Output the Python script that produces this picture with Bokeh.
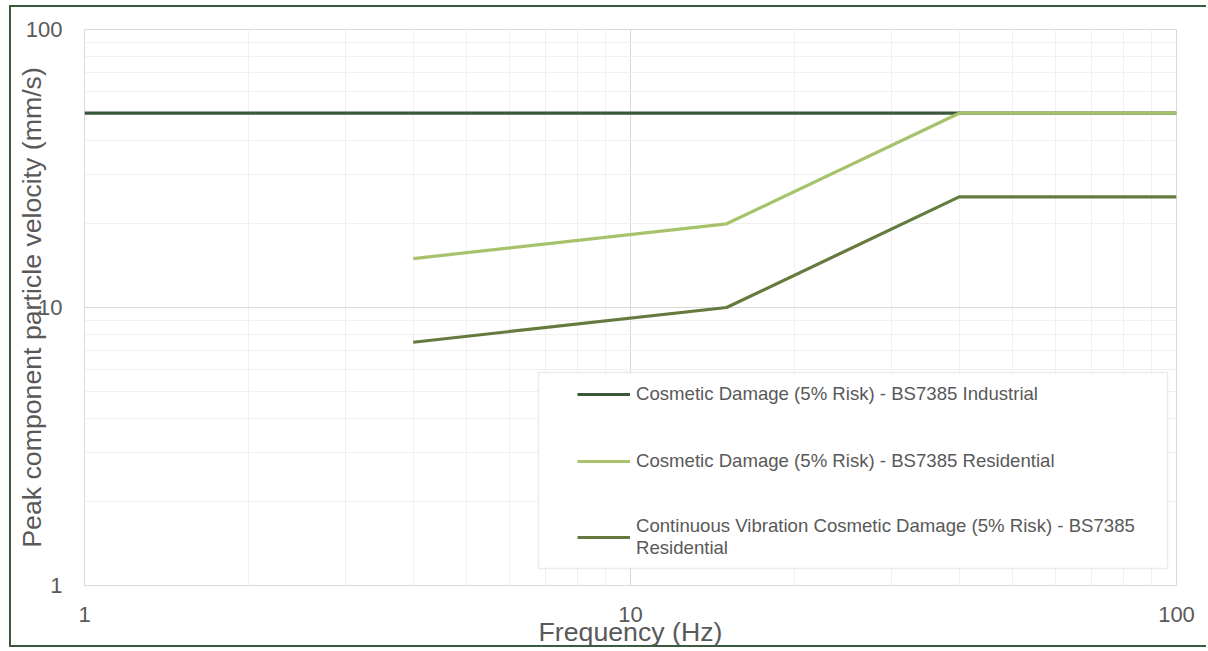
from bokeh.plotting import figure
from bokeh.models import Legend, LegendItem, FixedTicker, NumeralTickFormatter, BoxAnnotation, Range1d
from bokeh.embed import file_html
from bokeh.resources import INLINE

# ---- data ----
freq_industrial = [1, 100]
ppv_industrial = [50, 50]
freq_residential = [4, 15, 40, 100]
ppv_residential = [15, 20, 50, 50]
freq_continuous = [4, 15, 40, 100]
ppv_continuous = [7.5, 10, 25, 25]
labels = [
    "Cosmetic Damage (5% Risk) - BS7385 Industrial",
    "Cosmetic Damage (5% Risk) - BS7385 Residential",
    "Continuous Vibration Cosmetic Damage (5% Risk) - BS7385\nResidential",
]
colors = ["#3B573B", "#A6C36C", "#647A3E"]
major_ticks = [1, 10, 100]

FONT = "Liberation Sans"
TXT = "#595959"
BORDER = "2px solid #3D5A3D"

W, H = 1197, 642
FL, FT, FR, FB = 73, 22, 32, 64  # frame borders

p = figure(width=W, height=H, x_axis_type="log", y_axis_type="log",
           x_range=Range1d(1, 100), y_range=Range1d(1, 100),
           output_backend="svg", toolbar_location=None,
           min_border_left=FL, min_border_top=FT, min_border_right=FR, min_border_bottom=FB)
p.styles = {"border-left": BORDER, "border-top": BORDER, "border-bottom": BORDER,
            "margin-left": "9px", "margin-top": "5px"}
p.outline_line_color = "#D9D9D9"
p.background_fill_color = "white"
p.border_fill_color = "white"

minor = [m * d for d in (1, 10) for m in range(2, 10)]
for ax in (p.xaxis[0], p.yaxis[0]):
    ax.ticker = FixedTicker(ticks=major_ticks, minor_ticks=minor)
    ax.formatter = NumeralTickFormatter(format="0")
    ax.axis_line_color = None
    ax.major_tick_line_color = None
    ax.minor_tick_line_color = None
    ax.major_tick_out = 0
    ax.major_tick_in = 0
    ax.minor_tick_out = 0
    ax.minor_tick_in = 0
    ax.major_label_text_font = FONT
    ax.major_label_text_font_size = "22px"
    ax.major_label_text_color = TXT
    ax.axis_label_text_font = FONT
    ax.axis_label_text_font_size = "26.7px"
    ax.axis_label_text_color = TXT
    ax.axis_label_text_font_style = "normal"

p.xaxis.axis_label = "Frequency (Hz)"
p.yaxis.axis_label = "Peak component particle velocity (mm/s)"
p.xaxis.major_label_standoff = 21
p.xaxis.axis_label_standoff = -8
p.yaxis.major_label_standoff = 22
p.yaxis.axis_label_standoff = -24

for g in (p.xgrid[0], p.ygrid[0]):
    g.grid_line_color = "#D9D9D9"
    g.grid_line_width = 1
    g.minor_grid_line_color = "#F0F0F0"
    g.minor_grid_line_width = 1

r1 = p.line(freq_industrial, ppv_industrial, line_color=colors[0], line_width=3.2)
r2 = p.line(freq_residential, ppv_residential, line_color=colors[1], line_width=3.2)
r3 = p.line(freq_continuous, ppv_continuous, line_color=colors[2], line_width=3.2)

# legend box (frame-relative pixel extents converted to data space)
fw = W - FL - FR
fh = H - FT - FB
def px_to_x(px):
    return 10 ** (2 * px / fw)
def px_to_y(py):
    return 10 ** (2 * py / fh)
box = BoxAnnotation(left=px_to_x(454), right=px_to_x(1083),
                    bottom=px_to_y(17), top=px_to_y(213),
                    fill_color="white", fill_alpha=1,
                    line_color="#BFBFBF", line_width=1.5)
p.add_layout(box)

legend = Legend(items=[LegendItem(label=labels[0], renderers=[r1]),
                       LegendItem(label=labels[1], renderers=[r2]),
                       LegendItem(label=labels[2], renderers=[r3])],
                location=(493, 26), orientation="vertical",
                background_fill_alpha=0, border_line_color=None,
                padding=0, margin=0, spacing=41,
                glyph_width=53, glyph_height=20, label_height=26,
                label_standoff=6,
                label_text_font=FONT, label_text_font_size="18.6px",
                label_text_color=TXT)
p.add_layout(legend, "center")

open("out.html", "w").write(file_html(p, INLINE))
